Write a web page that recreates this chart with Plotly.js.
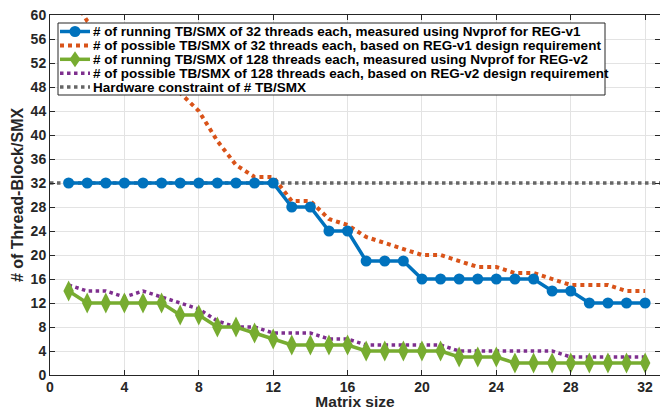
<!DOCTYPE html>
<html>
<head>
<meta charset="utf-8">
<script src="https://cdn.plot.ly/plotly-3.0.1.min.js"></script>
<style>html,body{margin:0;padding:0;background:#fff;}#chart{width:660px;height:410px;}</style>
</head>
<body>
<div id="chart"></div>
<script>
// ---- data ----
var matrixSizes = [1,2,3,4,5,6,7,8,9,10,11,12,13,14,15,16,17,18,19,20,21,22,23,24,25,26,27,28,29,30,31,32];
var runningV1 = [32,32,32,32,32,32,32,32,32,32,32,32,28,28,24,24,19,19,19,16,16,16,16,16,16,16,14,14,12,12,12,12];
var possibleV1 = [64,59,56,54,52,49,47,44,39,35,33,33,29,29,26,25,23,22,21,20,20,19,18,18,17,17,16,15,15,15,14,14];
var runningV2 = [14,12,12,12,12,12,10,10,8,8,7,6,5,5,5,5,4,4,4,4,4,3,3,3,2,2,2,2,2,2,2,2];
var possibleV2 = [15,14,14,13,14,13,12,11,9,8,8,7,7,7,6,6,5,5,5,5,5,4,4,4,4,4,4,3,3,3,3,3];
var hwSizes = [0, 33];
var hwLimit = [32, 32];
var seriesNames = [
  "# of running TB/SMX of 32 threads each, measured using Nvprof for REG-v1",
  "# of possible TB/SMX of 32 threads each, based on REG-v1 design requirement",
  "# of running TB/SMX of 128 threads each, measured using Nvprof for REG-v2",
  "# of possible TB/SMX of 128 threads each, based on REG-v2 design requirement",
  "Hardware constraint of # TB/SMX"
];
var xTicks = [0,4,8,12,16,20,24,28,32];
var yTicks = [0,4,8,12,16,20,24,28,32,36,40,44,48,52,56,60];

var FONT = "Liberation Sans, Arial, Helvetica, sans-serif";
var AX = "#262626";

// series styles (legend order)
var styles = [
  {color: "#0072BD", width: 3.5, dash: "solid", marker: "circle"},
  {color: "#D95319", width: 4, dash: "dot", marker: null},
  {color: "#77AC30", width: 3.5, dash: "solid", marker: "diamond"},
  {color: "#7E2F8E", width: 3.5, dash: "dot", marker: null},
  {color: "#666666", width: 3.5, dash: "dot", marker: null}
];

var traces = [
  {x: hwSizes, y: hwLimit, name: seriesNames[4], mode: "lines",
   line: {color: styles[4].color, width: styles[4].width, dash: "dot"}},
  {x: matrixSizes, y: possibleV1, name: seriesNames[1], mode: "lines",
   line: {color: styles[1].color, width: styles[1].width, dash: "dot"}},
  {x: matrixSizes, y: possibleV2, name: seriesNames[3], mode: "lines",
   line: {color: styles[3].color, width: styles[3].width, dash: "dot"}},
  {x: matrixSizes, y: runningV1, name: seriesNames[0], mode: "lines+markers",
   line: {color: styles[0].color, width: styles[0].width},
   marker: {symbol: "circle", size: 11, color: styles[0].color}},
  {x: matrixSizes, y: runningV2, name: seriesNames[2], mode: "lines+markers",
   line: {color: styles[2].color, width: styles[2].width},
   marker: {symbol: "diamond-tall", size: 15, color: styles[2].color}}
];

// ---- legend box drawn in plot-pixel geometry (MATLAB-like compact legend) ----
var plotL = 50, plotW = 610, plotT = 15, plotH = 360;
function px(v) { return (v - plotL) / plotW; }
function py(v) { return (plotT + plotH - v) / plotH; }
var legBox = {l: 58, r: 605, t: 23, b: 95};
var rowY0 = 31.5, rowStep = 13.9, sampleL = 60, sampleR = 90, textL = 91;

var shapes = [{type: "rect", xref: "paper", yref: "paper", layer: "above",
  x0: px(legBox.l), x1: px(legBox.r), y0: py(legBox.b), y1: py(legBox.t),
  line: {color: AX, width: 1}, fillcolor: "#ffffff"}];
var annotations = [];
seriesNames.forEach(function (name, i) {
  var yy = py(rowY0 + rowStep * i);
  var st = styles[i];
  shapes.push({type: "line", xref: "paper", yref: "paper", layer: "above",
    x0: px(sampleL), x1: px(sampleR), y0: yy, y1: yy,
    line: {color: st.color, width: st.width, dash: st.dash}});
  if (st.marker === "circle") {
    shapes.push({type: "circle", xref: "paper", yref: "paper", layer: "above",
      xsizemode: "pixel", ysizemode: "pixel",
      xanchor: px((sampleL + sampleR) / 2), yanchor: yy,
      x0: -5.5, x1: 5.5, y0: -5.5, y1: 5.5,
      line: {color: st.color, width: 0}, fillcolor: st.color});
  } else if (st.marker === "diamond") {
    shapes.push({type: "path", xref: "paper", yref: "paper", layer: "above",
      xsizemode: "pixel", ysizemode: "pixel",
      xanchor: px((sampleL + sampleR) / 2), yanchor: yy,
      path: "M0,8L5.5,0L0,-8L-5.5,0Z",
      line: {color: st.color, width: 0}, fillcolor: st.color});
  }
  annotations.push({xref: "paper", yref: "paper", x: px(textL), y: yy,
    xanchor: "left", yanchor: "middle", showarrow: false, text: name,
    font: {family: FONT, size: 13.5, color: "#000", weight: "bold"}});
});

var axisCommon = {
  showline: true, linecolor: AX, linewidth: 1, mirror: "ticks",
  ticks: "inside", ticklen: 5, tickcolor: AX, tickwidth: 1,
  showgrid: true, gridcolor: "#e3e3e3", gridwidth: 1, zeroline: false,
  tickfont: {family: FONT, size: 14, color: AX, weight: "bold"},
  automargin: false
};

var layout = {
  width: 660, height: 410,
  margin: {l: plotL, r: 660 - plotL - plotW, t: plotT, b: 410 - plotT - plotH},
  paper_bgcolor: "#ffffff", plot_bgcolor: "#ffffff",
  showlegend: false,
  shapes: shapes,
  annotations: annotations,
  xaxis: Object.assign({}, axisCommon, {
    range: [0, 32.8], tickmode: "array", tickvals: xTicks, ticktext: xTicks.map(String),
    ticklabelstandoff: -1,
    title: {text: "Matrix size", font: {family: FONT, size: 15.5, color: AX, weight: "bold"}}
  }),
  yaxis: Object.assign({}, axisCommon, {
    range: [0, 60], tickmode: "array", tickvals: yTicks, ticktext: yTicks.map(String),
    title: {text: "# of Thread-Block/SMX", standoff: 3, font: {family: FONT, size: 16, color: AX, weight: "bold"}}
  })
};

Plotly.newPlot("chart", traces, layout, {displayModeBar: false, staticPlot: true});
</script>
</body>
</html>
